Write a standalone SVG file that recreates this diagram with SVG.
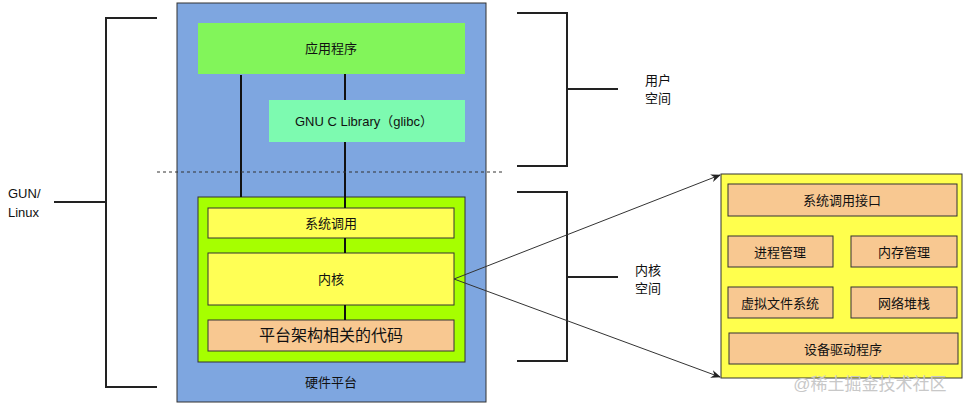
<svg xmlns="http://www.w3.org/2000/svg" width="965" height="409" viewBox="0 0 965 409">
<defs>
<style>
text{font-family:"Liberation Sans","Noto Sans CJK SC",sans-serif;font-size:13px;fill:#111;text-anchor:middle;dominant-baseline:central}
.b{stroke:#222;stroke-width:2;fill:none}
.ln{stroke:#111;stroke-width:2;fill:none}
.box{stroke:#333;stroke-width:1}
.or{fill:#F8C891;stroke:#333;stroke-width:1}
.lb{text-anchor:start}
</style>
<marker id="ah" markerWidth="10" markerHeight="8" refX="9" refY="4" orient="auto" markerUnits="userSpaceOnUse">
<path d="M0,0 L10,4 L0,8 L3,4 z" fill="#222"/>
</marker>
</defs>
<rect width="965" height="409" fill="#fff"/>

<g id="brackets">
<path class="b" d="M157,18 H106 V387 H157 M106,202 H54"/>
<path class="b" d="M517,13 H567 V166 H517 M567,89 H618"/>
<path class="b" d="M517,192 H567 V361 H517 M567,277 H618"/>
</g>
<g id="labels">
<text class="lb" x="8" y="193">GUN/</text>
<text class="lb" x="8" y="212">Linux</text>
<text x="658" y="80">用户</text>
<text x="658" y="98">空间</text>
<text x="648" y="270">内核</text>
<text x="648" y="288">空间</text>
</g>

<g id="hardware">
<rect class="box" x="177" y="3" width="309" height="399" fill="#7EA6E0"/>
<text x="331" y="382">硬件平台</text>
</g>
<g id="app">
<rect x="198" y="23" width="267" height="51" fill="#82F55A"/>
<text x="331" y="48">应用程序</text>
</g>
<g id="glibc">
<rect x="269" y="100" width="196" height="42" fill="#7DFAB0"/>
<text x="364" y="121">GNU C Library（glibc）</text>
</g>
<g id="kernel-space">
<rect class="box" x="198" y="197" width="267" height="165" fill="#A6FF00"/>
</g>
<g id="syscall">
<rect class="box" x="208" y="208" width="246" height="30" fill="#FFFF55"/>
<text x="331" y="223">系统调用</text>
</g>
<g id="kernel">
<rect class="box" x="208" y="253" width="246" height="52" fill="#FFFF55"/>
<text x="331" y="279">内核</text>
</g>
<g id="arch">
<rect class="or" x="208" y="320" width="246" height="31"/>
<text x="331" y="335" style="font-size:16px">平台架构相关的代码</text>
</g>

<g id="connectors">
<line class="ln" x1="241" y1="75" x2="241" y2="197"/>
<line class="ln" x1="345" y1="74" x2="345" y2="100"/>
<line class="ln" x1="345" y1="142" x2="345" y2="208"/>
<line class="ln" x1="345" y1="238" x2="345" y2="253"/>
<line class="ln" x1="345" y1="305" x2="345" y2="320"/>
<line x1="157" y1="172" x2="505" y2="172" stroke="#333" stroke-width="1" stroke-dasharray="3,3"/>
<line x1="454" y1="279" x2="720" y2="175" stroke="#333" stroke-width="1" marker-end="url(#ah)"/>
<line x1="454" y1="279" x2="720" y2="377" stroke="#333" stroke-width="1" marker-end="url(#ah)"/>
</g>

<g id="kernel-detail">
<rect class="box" x="721" y="174" width="241" height="204" fill="#FFFF4D"/>
</g>
<g id="sci"><rect class="or" x="728" y="184" width="229" height="32"/><text x="842" y="200">系统调用接口</text></g>
<g id="proc"><rect class="or" x="728" y="236" width="105" height="31"/><text x="780" y="252">进程管理</text></g>
<g id="mem"><rect class="or" x="851" y="236" width="106" height="31"/><text x="904" y="252">内存管理</text></g>
<g id="vfs"><rect class="or" x="728" y="287" width="105" height="31"/><text x="780" y="303">虚拟文件系统</text></g>
<g id="net"><rect class="or" x="851" y="287" width="106" height="31"/><text x="904" y="303">网络堆栈</text></g>
<g id="drv"><rect class="or" x="729" y="333" width="229" height="31"/><text x="843" y="349">设备驱动程序</text></g>

<text x="870" y="384" style="font-size:17px;fill:#c8c8c8">@稀土掘金技术社区</text>
</svg>
